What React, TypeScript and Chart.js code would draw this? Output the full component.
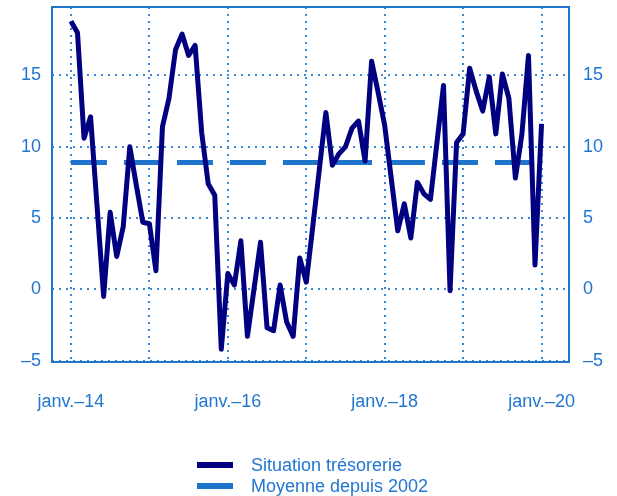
import React, { useEffect, useRef } from 'react';
import { Chart, registerables } from 'chart.js';

Chart.register(...registerables);

// Monthly values, Jan 2014 (index 0) to Jan 2020 (index 72)
const situationTresorerie: number[] = [
  18.8, 18.0, 10.6, 12.1, 5.8, -0.5, 5.4, 2.3, 4.4, 10.0, 7.3, 4.7,
  4.6, 1.3, 11.4, 13.4, 16.8, 17.9, 16.4, 17.1, 11.0, 7.4, 6.6, -4.2,
  1.1, 0.3, 3.4, -3.3, 0.0, 3.3, -2.7, -2.9, 0.3, -2.3, -3.3, 2.2,
  0.5, 4.4, 8.4, 12.4, 8.7, 9.5, 10.0, 11.3, 11.8, 9.0, 16.0, 13.8,
  11.5, 7.8, 4.1, 6.0, 3.6, 7.5, 6.7, 6.3, 10.3, 14.3, -0.1, 10.3,
  10.9, 15.5, 13.9, 12.5, 14.9, 10.9, 15.1, 13.4, 7.8, 10.9, 16.4, 1.7,
  11.6,
];
const moyenneDepuis2002 = 8.9;

const xGridMonths = [0, 12, 24, 36, 48, 60, 72];
const xTickMonths = [0, 24, 48, 72];
const xTickLabels = ['janv.–14', 'janv.–16', 'janv.–18', 'janv.–20'];
const yTickValues = [-5, 0, 5, 10, 15];

const NAVY = '#000080';
const BLUE = '#1f74cc';
const GRID = '#3b88d8';
const TEXT = '#2176d2';
const FONT = "'Liberation Sans', Arial, sans-serif";

export default function App() {
  const ref = useRef<HTMLCanvasElement>(null);

  useEffect(() => {
    document.body.style.margin = '0';
    const canvas = ref.current;
    if (!canvas) return;

    const framePlugin = {
      id: 'frame',
      afterDraw(chart: any) {
        const { ctx, chartArea: a } = chart;
        ctx.save();
        ctx.strokeStyle = BLUE;
        ctx.lineWidth = 2;
        ctx.strokeRect(a.left, a.top, a.right - a.left, a.bottom - a.top);
        ctx.restore();
      },
    };

    const mainData = situationTresorerie.map((v, i) => ({ x: i, y: v }));
    const avgData = situationTresorerie.map((_, i) => ({ x: i, y: moyenneDepuis2002 }));

    const yLabel = (v: any) => (Number(v) < 0 ? '–' + Math.abs(Number(v)) : String(v));

    const chart = new Chart(canvas, {
      type: 'line',
      data: {
        datasets: [
          {
            label: 'Situation trésorerie',
            data: mainData,
            borderColor: NAVY,
            backgroundColor: NAVY,
            borderWidth: 5,
            pointRadius: 0,
            tension: 0,
            borderJoinStyle: 'round',
            yAxisID: 'y',
          },
          {
            label: 'Moyenne depuis 2002',
            data: avgData,
            borderColor: BLUE,
            backgroundColor: BLUE,
            borderWidth: 5,
            borderDash: [36, 17],
            pointRadius: 0,
            tension: 0,
            yAxisID: 'y',
          },
        ],
      },
      options: {
        responsive: false,
        animation: false,
        layout: { padding: { top: 7, left: 0, right: 0, bottom: 0 } },
        plugins: {
          legend: { display: false },
          tooltip: { enabled: false },
        },
        scales: {
          x: {
            type: 'linear',
            min: -2.9,
            max: 76.2,
            afterBuildTicks: (scale: any) => {
              scale.ticks = xGridMonths.map((v) => ({ value: v }));
            },
            afterFit: (scale: any) => {
              scale.height = 134;
              scale.paddingLeft = 0;
              scale.paddingRight = 0;
            },
            grid: { color: GRID, lineWidth: 2, drawTicks: false },
            border: { display: false, dash: [2, 5] },
            ticks: {
              color: TEXT,
              font: { family: FONT, size: 18 },
              padding: 29,
              maxRotation: 0,
              autoSkip: false,
              callback: (v: any) => {
                const idx = xTickMonths.indexOf(Number(v));
                return idx >= 0 ? xTickLabels[idx] : '';
              },
            },
          },
          y: {
            position: 'left',
            min: -5.1,
            max: 19.8,
            afterBuildTicks: (scale: any) => {
              scale.ticks = yTickValues.map((v) => ({ value: v }));
            },
            afterFit: (scale: any) => {
              scale.width = 52;
              scale.paddingTop = 0;
              scale.paddingBottom = 0;
            },
            grid: { color: GRID, lineWidth: 2, drawTicks: false },
            border: { display: false, dash: [2, 5] },
            ticks: {
              color: TEXT,
              font: { family: FONT, size: 18 },
              padding: 11,
              callback: yLabel,
            },
          },
          y2: {
            position: 'right',
            min: -5.1,
            max: 19.8,
            afterBuildTicks: (scale: any) => {
              scale.ticks = yTickValues.map((v) => ({ value: v }));
            },
            afterFit: (scale: any) => {
              scale.width = 48;
              scale.paddingTop = 0;
              scale.paddingBottom = 0;
            },
            grid: { display: false, drawTicks: false },
            border: { display: false },
            ticks: {
              color: TEXT,
              font: { family: FONT, size: 18 },
              padding: 14,
              callback: yLabel,
            },
          },
        },
      },
      plugins: [framePlugin],
    } as any);

    return () => chart.destroy();
  }, []);

  const legendText: React.CSSProperties = {
    position: 'absolute',
    left: 251,
    fontFamily: FONT,
    fontSize: 18,
    lineHeight: '21px',
    color: TEXT,
    whiteSpace: 'nowrap',
  };

  return (
    <div style={{ position: 'relative', width: 617, height: 496, background: '#fff' }}>
      <canvas ref={ref} width={617} height={496} style={{ display: 'block' }} />
      <div style={{ position: 'absolute', left: 197, top: 462, width: 36, height: 6, background: NAVY }} />
      <div style={{ ...legendText, top: 455 }}>Situation trésorerie</div>
      <div style={{ position: 'absolute', left: 197, top: 483, width: 36, height: 6, background: BLUE }} />
      <div style={{ ...legendText, top: 476 }}>Moyenne depuis 2002</div>
    </div>
  );
}
